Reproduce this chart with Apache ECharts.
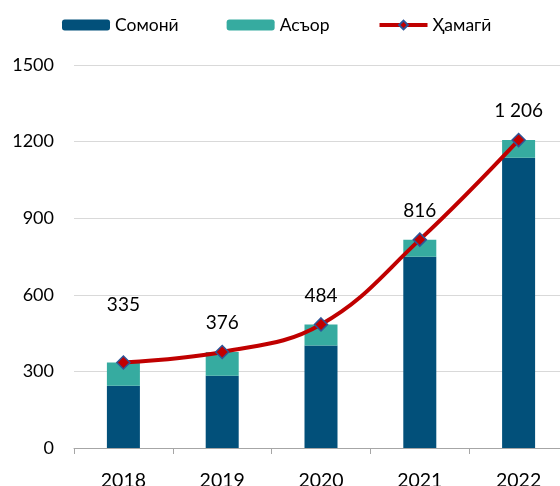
<!DOCTYPE html>
<html lang="en">
<head>
    <meta charset="UTF-8">
    <script src="https://cdn.jsdelivr.net/npm/echarts@6/dist/echarts.min.js"></script>
    <title>chart</title>
    <style>
        html, body { margin: 0; padding: 0; background: #ffffff; overflow: hidden; }
        /* the plot runs a little past the right edge, as in the original */
        #chart { width: 568px; height: 486px; }
    </style>
</head>
<body>
<div id="chart"></div>
<script>
    const years = ['2018', '2019', '2020', '2021', '2022'];
    const somoni = [244, 283, 401, 749, 1137];
    const asor = [91, 93, 83, 67, 69];
    const total = [335, 376, 484, 816, 1206];
    const yTicks = [0, 300, 600, 900, 1200, 1500];

    const chart = echarts.init(document.getElementById('chart'));

    const font = 'Lato, "Noto Sans", sans-serif';

    const option = {
        animation: false,
        textStyle: { fontFamily: font },
        legend: {
            top: 11,
            left: 57,
            itemWidth: 48,
            itemHeight: 11,
            itemGap: 48,
            textStyle: { fontSize: 17.5, color: '#000000', fontFamily: font },
            data: ['Сомонӣ', 'Асъор', { name: 'Ҳамагӣ', lineStyle: { width: 4 } }]
        },
        grid: { left: 74, right: 0, top: 65, bottom: 38, outerBoundsMode: 'none' },
        xAxis: {
            type: 'category',
            data: years,
            axisLine: { lineStyle: { color: '#a6a6a6', width: 1 } },
            axisTick: { show: true, length: 6, lineStyle: { color: '#a6a6a6' } },
            axisLabel: { fontSize: 19.5, color: '#000000', margin: 23 }
        },
        yAxis: {
            type: 'value',
            min: yTicks[0],
            max: yTicks[yTicks.length - 1],
            interval: 300,
            axisLine: { show: false },
            axisTick: { show: false },
            axisLabel: { fontSize: 18, color: '#000000', margin: 20, formatter: v => String(v) },
            splitLine: { lineStyle: { color: '#d9d9d9', width: 1 } }
        },
        series: [
            {
                name: 'Сомонӣ',
                type: 'bar',
                stack: 'a',
                barWidth: 33,
                itemStyle: { color: '#02507a' },
                data: somoni
            },
            {
                name: 'Асъор',
                type: 'bar',
                stack: 'a',
                itemStyle: { color: '#36aba0' },
                data: asor
            },
            {
                name: 'Ҳамагӣ',
                type: 'line',
                smooth: 0.4,
                z: 5,
                symbol: 'diamond',
                symbolSize: 13,
                lineStyle: { color: '#c00000', width: 4 },
                itemStyle: { color: '#c00000', borderColor: '#2f5597', borderWidth: 1.5 },
                label: {
                    show: true,
                    position: 'top',
                    distance: 12,
                    fontSize: 19,
                    color: '#000000',
                    formatter: p => String(p.value).replace(/\B(?=(\d{3})+(?!\d))/g, ' ')
                },
                data: total.map((v, i) => i === 0 ? { value: v, label: { distance: 41 } } : v)
            }
        ]
    };

    chart.setOption(option);
</script>
</body>
</html>
